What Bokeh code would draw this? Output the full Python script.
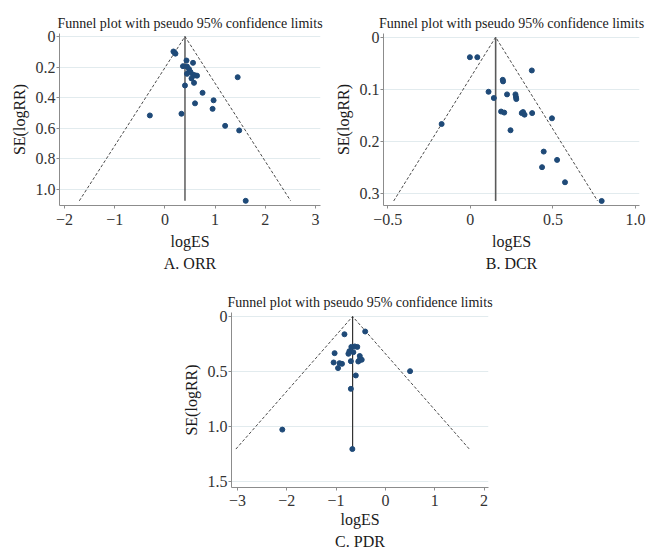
from bokeh.plotting import figure
from bokeh.models import Range1d, FixedTicker, CustomJSTickFormatter, Title, Spacer
from bokeh.layouts import row, column
from bokeh.embed import file_html
from bokeh.resources import INLINE

TITLE = "Funnel plot with pseudo 95% confidence limits"
XLABEL = "logES"
YLABEL = "SE(logRR)"

# ---- A. ORR ----
orr_es = [0.17, 0.19, 0.21, 0.43, 0.56, 0.36, 0.44, 0.48, 0.51, 0.44, 0.56, 0.60,
          0.64, 0.53, 0.58, 0.40, 1.45, 0.75, 0.97, 0.60, 0.95, 0.33, -0.30, 1.20,
          1.48, 1.61]
orr_se = [0.098, 0.104, 0.112, 0.157, 0.172, 0.194, 0.196, 0.213, 0.232, 0.244, 0.250, 0.254,
          0.256, 0.274, 0.303, 0.320, 0.266, 0.368, 0.417, 0.437, 0.473, 0.505, 0.516, 0.584,
          0.614, 1.074]
orr_pooled = 0.40
orr_xticks = [-2, -1, 0, 1, 2, 3]
orr_xlabels = ["\u22122", "\u22121", "0", "1", "2", "3"]
orr_yticks = [0, 0.2, 0.4, 0.6, 0.8, 1.0]
orr_ylabels = ["0", "0.2", "0.4", "0.6", "0.8", "1.0"]

# ---- B. DCR ----
dcr_es = [-0.003, 0.042, 0.372, 0.196, 0.198, 0.110, 0.142, 0.222, 0.273, 0.276, 0.278,
          0.186, 0.205, 0.311, 0.319, 0.328, 0.374, 0.494, 0.243, 0.444, 0.525, 0.434,
          0.573, 0.795, -0.174]
dcr_se = [0.0385, 0.0385, 0.064, 0.082, 0.085, 0.105, 0.117, 0.110, 0.110, 0.115, 0.119,
          0.143, 0.145, 0.146, 0.144, 0.149, 0.146, 0.156, 0.179, 0.220, 0.236, 0.250,
          0.279, 0.315, 0.167]
dcr_pooled = 0.153
dcr_xticks = [-0.5, 0, 0.5, 1.0]
dcr_xlabels = ["\u22120.5", "0", "0.5", "1.0"]
dcr_yticks = [0, 0.1, 0.2, 0.3]
dcr_ylabels = ["0", "0.1", "0.2", "0.3"]

# ---- C. PDR ----
pdr_es = [-0.41, -0.83, -0.69, -0.62, -0.57, -0.65, -0.73, -0.75, -1.03, -0.52, -0.48,
          -0.55, -0.53, -0.70, -1.05, -0.93, -0.88, -0.96, -0.60, -0.70, 0.50, -2.09, -0.67]
pdr_se = [0.137, 0.162, 0.277, 0.273, 0.277, 0.325, 0.316, 0.340, 0.334, 0.360, 0.394,
          0.410, 0.400, 0.407, 0.419, 0.425, 0.431, 0.470, 0.537, 0.659, 0.498, 1.030, 1.207]
pdr_pooled = -0.665
pdr_xticks = [-3, -2, -1, 0, 1, 2]
pdr_xlabels = ["\u22123", "\u22122", "\u22121", "0", "1", "2"]
pdr_yticks = [0, 0.5, 1.0, 1.5]
pdr_ylabels = ["0", "0.5", "1.0", "1.5"]

SERIF = "Liberation Serif"
FMT = ("for (let i = 0; i < t.length; i++) { if (Math.abs(t[i] - tick) < 1e-6) { return l[i]; } } "
       "return '';")


def panel(es, se, pooled, xr, yr, xticks, xlabels, yticks, ylabels, caption,
          width, height, bl, bt, br, bb, title_standoff, xstand, xlab_stand, cap_standoff,
          vcolor, vwidth):
    p = figure(width=width, height=height,
               x_range=Range1d(*xr), y_range=Range1d(*yr),
               output_backend="svg", toolbar_location=None,
               min_border_left=bl, min_border_top=bt,
               min_border_right=br, min_border_bottom=bb)
    p.outline_line_color = None
    p.background_fill_color = "white"
    p.border_fill_color = "white"

    p.title.text = TITLE
    p.title.text_font = SERIF
    p.title.text_font_size = "14px"
    p.title.text_font_style = "normal"
    p.title.text_color = "#1a1a1a"
    p.title.align = "center"
    p.title.standoff = title_standoff

    p.add_layout(Title(text=caption, align="center", text_font=SERIF,
                       text_font_size="16px", text_font_style="normal",
                       text_color="#1a1a1a", standoff=cap_standoff), "below")

    for ax, ticks, labels in ((p.xaxis, xticks, xlabels), (p.yaxis, yticks, ylabels)):
        ax.ticker = FixedTicker(ticks=ticks)
        ax.formatter = CustomJSTickFormatter(args=dict(t=ticks, l=labels), code=FMT)
        ax.axis_line_color = "#8c8c8c"
        ax.major_tick_line_color = "#8c8c8c"
        ax.major_tick_in = 0
        ax.major_tick_out = 3
        ax.minor_tick_line_color = None
        ax.major_label_text_font = SERIF
        ax.major_label_text_font_size = "16px"
        ax.major_label_text_color = "#333333"
        ax.axis_label_text_font = SERIF
        ax.axis_label_text_font_size = "16px"
        ax.axis_label_text_font_style = "normal"
        ax.axis_label_text_color = "#1a1a1a"
    p.xaxis.axis_label = XLABEL
    p.yaxis.axis_label = YLABEL
    p.xaxis.major_label_standoff = xstand
    p.xaxis.axis_label_standoff = xlab_stand
    p.yaxis.major_label_standoff = 1
    p.yaxis.axis_label_standoff = 5

    p.xgrid.visible = False
    p.ygrid.grid_line_color = "#e2ebee"
    p.ygrid.grid_line_width = 1

    semax = max(se)
    p.line([pooled - 1.96 * semax, pooled, pooled + 1.96 * semax], [semax, 0, semax],
           line_color="#4a4a4a", line_width=1, line_dash="3 2")
    p.segment(x0=[pooled], y0=[0], x1=[pooled], y1=[semax],
              line_color=vcolor, line_width=vwidth)
    p.scatter(es, se, size=5, fill_color="#1f4a78", line_color="#1f4a78")
    return p


pA = panel(orr_es, orr_se, orr_pooled, (-2.10, 3.10), (1.1046, -0.0196),
           orr_xticks, orr_xlabels, orr_yticks, orr_ylabels, "A. ORR",
           331, 278, 59, 33, 11, 73, 5, 5, 5, 1, "#333333", 1.2)
pB = panel(dcr_es, dcr_se, dcr_pooled, (-0.526, 1.024), (0.3237, -0.0071),
           dcr_xticks, dcr_xlabels, dcr_yticks, dcr_ylabels, "B. DCR",
           329, 278, 48, 33, 21, 73, 5, 5, 5, 1, "#5a5a5a", 1.6)
pC = panel(pdr_es, pdr_se, pdr_pooled, (-3.12, 2.09), (1.557, -0.036),
           pdr_xticks, pdr_xlabels, pdr_yticks, pdr_ylabels, "C. PDR",
           323, 272, 48, 34, 14, 63, 6, 4, 2, 0, "#333333", 1.2)

layout = column(row(pA, pB), row(Spacer(width=179, height=272), pC))

open("out.html", "w").write(file_html(layout, INLINE))
